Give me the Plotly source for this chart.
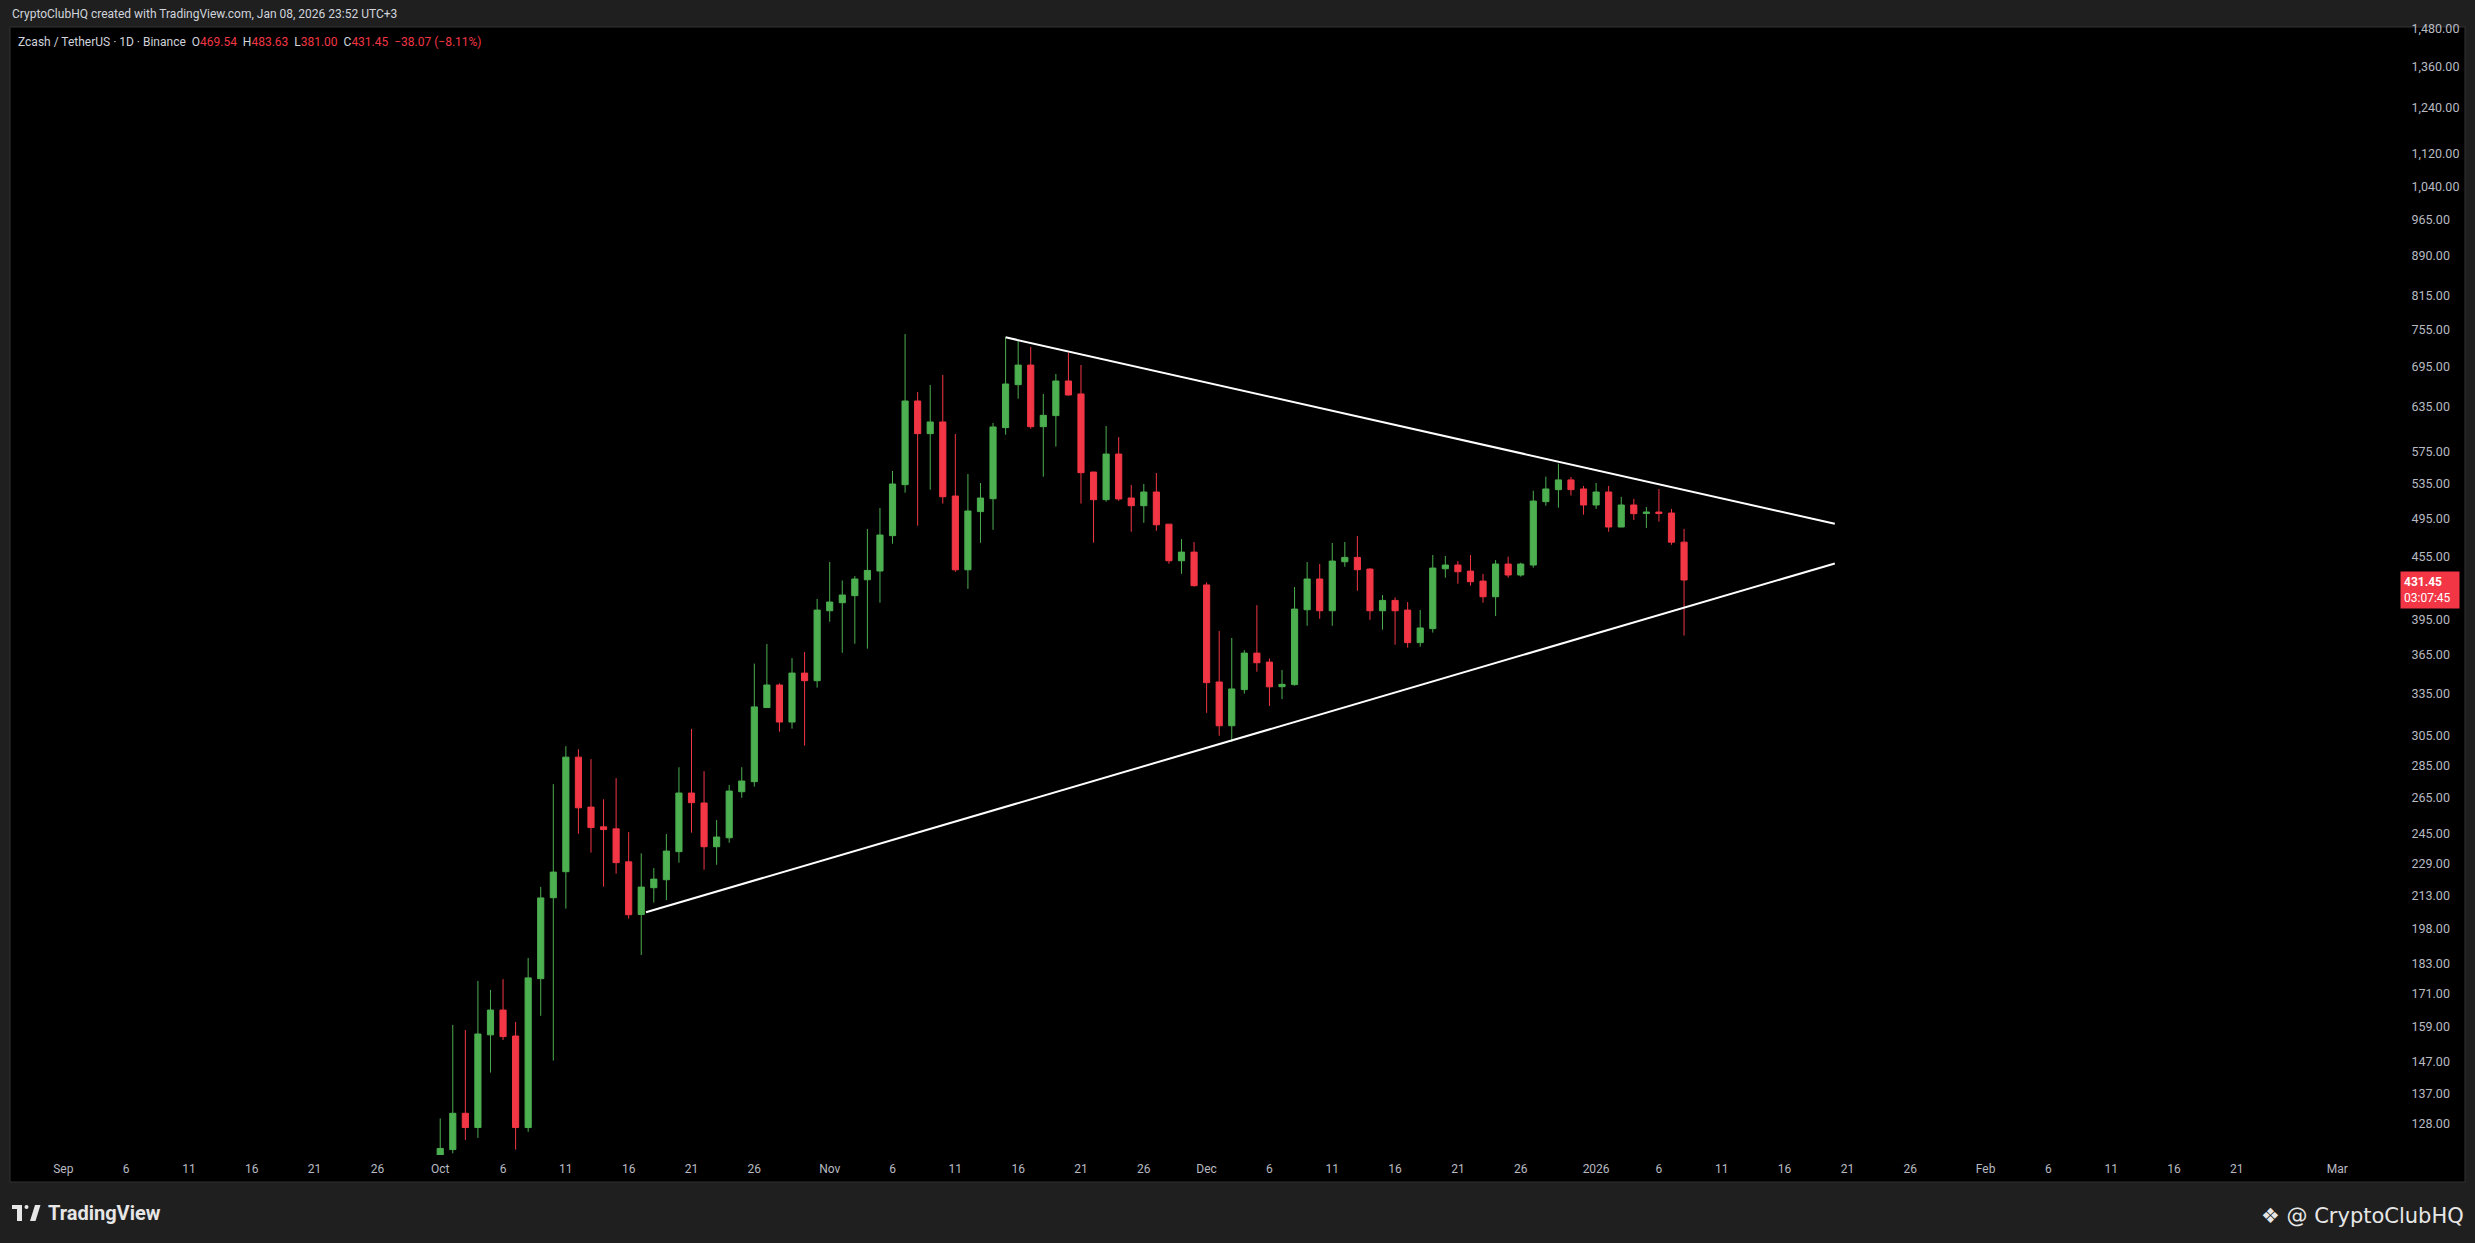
import math
import pandas as pd
import plotly.graph_objects as go

# Zcash / TetherUS daily candles, Oct 1 2025 - Jan 8 2026
dates = pd.date_range("2025-10-01", "2026-01-08", freq="D")

opens = [
    74.0, 120.8, 131.0, 126.9, 156.1, 165.0, 155.7, 126.9, 177.0, 212.1,
    224.8, 290.4, 259.7, 248.5, 247.4, 229.8, 204.3, 216.9, 220.8, 235.1,
    268.0, 262.1, 237.7, 242.5, 268.8, 274.9, 324.4, 341.2, 314.1, 350.4,
    344.5, 402.8, 410.1, 416.6, 431.7, 440.2, 476.4, 533.9, 643.7, 598.4,
    614.2, 520.5, 441.4, 502.7, 517.4, 606.5, 667.6, 697.5, 607.8, 623.0,
    673.1, 653.9, 549.2, 516.3, 571.7, 518.2, 509.4, 525.2, 488.8, 450.4,
    459.2, 426.7, 343.5, 311.5, 337.7, 366.4, 359.1, 339.9, 341.5, 403.7,
    432.4, 402.8, 449.4, 453.8, 442.1, 402.8, 412.2, 403.4, 375.1, 387.0,
    442.4, 446.1, 440.1, 430.4, 415.6, 447.1, 436.3, 446.1, 514.0, 528.0,
    539.6, 528.8, 510.2, 525.2, 485.7, 510.2, 500.7, 502.2, 501.1, 469.54,
]
highs = [
    129.5, 159.6, 157.8, 176.1, 172.6, 176.8, 160.7, 185.4, 217.3, 273.4,
    297.6, 295.6, 289.1, 264.3, 277.1, 245.6, 234.2, 226.6, 244.5, 283.9,
    309.3, 281.4, 252.3, 272.9, 283.9, 357.9, 373.9, 342.5, 362.4, 367.3,
    413.5, 449.1, 431.0, 435.3, 483.5, 506.8, 550.5, 747.6, 656.8, 667.1,
    682.2, 597.9, 546.8, 535.9, 612.9, 742.1, 738.8, 726.3, 653.9, 683.8,
    717.1, 697.6, 549.2, 608.7, 593.8, 533.5, 534.7, 548.0, 488.8, 472.8,
    469.6, 429.2, 384.9, 379.0, 368.8, 407.9, 362.0, 352.8, 424.7, 449.1,
    447.1, 468.6, 469.7, 476.0, 443.1, 417.2, 415.0, 410.7, 403.4, 456.2,
    455.2, 450.1, 456.2, 437.3, 451.1, 454.5, 448.5, 526.7, 543.6, 559.6,
    543.2, 532.4, 535.9, 532.4, 519.5, 517.1, 507.9, 528.8, 505.7, 483.63,
]
lows = [
    73.5, 119.8, 123.4, 124.0, 143.5, 154.3, 120.8, 125.7, 162.9, 147.4,
    207.0, 244.7, 234.6, 217.4, 223.8, 202.4, 186.6, 209.8, 211.0, 229.4,
    245.3, 225.8, 228.3, 239.8, 265.2, 271.9, 324.4, 307.4, 309.5, 298.0,
    339.2, 393.0, 366.7, 374.2, 370.1, 410.1, 467.9, 524.4, 487.1, 527.9,
    511.7, 439.4, 423.0, 468.9, 482.7, 597.0, 647.0, 605.1, 543.5, 581.3,
    651.5, 511.8, 469.0, 514.0, 514.9, 480.6, 490.3, 481.6, 447.4, 437.5,
    425.1, 320.6, 304.6, 300.5, 334.7, 351.5, 325.6, 330.6, 340.7, 389.5,
    395.6, 389.5, 444.4, 421.2, 394.7, 386.1, 373.4, 370.9, 371.7, 383.6,
    433.7, 427.9, 426.0, 410.1, 398.0, 433.7, 434.7, 443.5, 509.4, 507.2,
    521.0, 499.3, 505.7, 480.6, 485.7, 493.4, 484.6, 491.6, 466.8, 381.00,
]
closes = [
    121.1, 131.0, 126.9, 156.4, 165.0, 155.5, 126.9, 177.3, 212.0, 224.6,
    290.4, 259.3, 248.1, 247.0, 229.4, 204.2, 217.2, 221.1, 235.4, 268.0,
    262.3, 237.7, 242.9, 269.2, 275.3, 324.9, 341.2, 314.1, 350.4, 344.5,
    403.4, 410.7, 417.2, 432.4, 440.8, 477.1, 534.7, 643.7, 598.4, 614.2,
    519.7, 441.4, 503.4, 518.2, 607.4, 668.6, 697.5, 607.8, 623.4, 673.1,
    652.4, 548.4, 516.3, 571.7, 517.1, 509.4, 525.2, 488.1, 450.4, 459.2,
    426.0, 343.0, 311.5, 338.2, 366.4, 358.6, 339.8, 341.7, 404.3, 432.4,
    402.8, 450.1, 453.8, 441.5, 402.8, 412.2, 402.8, 375.1, 387.6, 443.1,
    446.1, 439.5, 429.8, 415.6, 447.1, 436.3, 447.1, 514.7, 528.8, 539.6,
    528.0, 510.2, 525.2, 485.7, 510.2, 500.4, 502.2, 500.7, 469.52, 431.45,
]

# symmetrical triangle trend lines
upper_line_dates = ["2025-11-15", "2026-01-20"]
upper_line_prices = [742.1, 489.2]
lower_line_dates = ["2025-10-17 09:00", "2026-01-20"]
lower_line_prices = [205.3, 447.7]

# axis ticks
y_ticks = [128, 137, 147, 159, 171, 183, 198, 213, 229, 245, 265, 285, 305, 335,
           365, 395, 455, 495, 535, 575, 635, 695, 755, 815, 890, 965, 1040,
           1120, 1240, 1360, 1480]
x_tick_dates = [
    "2025-09-01", "2025-09-06", "2025-09-11", "2025-09-16", "2025-09-21", "2025-09-26",
    "2025-10-01", "2025-10-06", "2025-10-11", "2025-10-16", "2025-10-21", "2025-10-26",
    "2025-11-01", "2025-11-06", "2025-11-11", "2025-11-16", "2025-11-21", "2025-11-26",
    "2025-12-01", "2025-12-06", "2025-12-11", "2025-12-16", "2025-12-21", "2025-12-26",
    "2026-01-01", "2026-01-06", "2026-01-11", "2026-01-16", "2026-01-21", "2026-01-26",
    "2026-02-01", "2026-02-06", "2026-02-11", "2026-02-16", "2026-02-21",
    "2026-03-01",
]
x_tick_labels = [
    "Sep", "6", "11", "16", "21", "26",
    "Oct", "6", "11", "16", "21", "26",
    "Nov", "6", "11", "16", "21", "26",
    "Dec", "6", "11", "16", "21", "26",
    "2026", "6", "11", "16", "21", "26",
    "Feb", "6", "11", "16", "21",
    "Mar",
]

GREEN = "#4caf50"
RED = "#f23645"
TXT = "#d1d4dc"
AXIS_TXT = "#b8bac2"
FONT = "Roboto"

# page geometry in pixels
W, H = 2475, 1243
PL, PR, PT, PB = 10, 2398, 27, 1155


def fx(px):
    return (px - PL) / (PR - PL)


def fy(py):
    return (PB - py) / (PB - PT)


fig = go.Figure()

fig.add_trace(go.Candlestick(
    x=dates, open=opens, high=highs, low=lows, close=closes,
    increasing=dict(line=dict(color=GREEN, width=1), fillcolor=GREEN),
    decreasing=dict(line=dict(color=RED, width=1), fillcolor=RED),
    whiskerwidth=0, showlegend=False, hoverinfo="skip",
))

for d, p in [(upper_line_dates, upper_line_prices), (lower_line_dates, lower_line_prices)]:
    fig.add_trace(go.Scatter(x=d, y=p, mode="lines", line=dict(color="#ffffff", width=2),
                             showlegend=False, hoverinfo="skip"))

sep1 = pd.Timestamp("2025-09-01")
day_px = 12.564
x_start = sep1 + pd.Timedelta(days=(PL - 63.3) / day_px)
x_end = sep1 + pd.Timedelta(days=(PR - 63.3) / day_px)

fig.update_xaxes(
    type="date", range=[x_start, x_end], rangeslider_visible=False,
    tickvals=x_tick_dates, ticktext=x_tick_labels,
    showgrid=False, zeroline=False, showline=False,
    ticks="outside", ticklen=3, tickcolor="#000000",
    tickfont=dict(family=FONT, size=12, color=AXIS_TXT),
)
fig.update_yaxes(
    type="log", side="right", range=[2.0768, 3.1717],
    tickvals=y_ticks, ticktext=["{:,.2f}".format(v) for v in y_ticks],
    showgrid=False, zeroline=False, showline=False,
    ticks="outside", ticklen=10, tickcolor="#000000",
    tickfont=dict(family=FONT, size=12.5, color=AXIS_TXT),
)

# black chart frame (pane + price scale + time scale) with thin border
fig.add_shape(type="rect", xref="paper", yref="paper", layer="below",
              x0=fx(10), x1=fx(2465), y0=fy(1182), y1=fy(27),
              fillcolor="#000000", line=dict(color="#333333", width=1))

# TradingView logo (bottom left)
logo = dict(xref="paper", yref="paper", fillcolor="#e6e6e6", line=dict(width=0))
fig.add_shape(type="rect", x0=fx(12), x1=fx(22), y0=fy(1209), y1=fy(1205), **logo)
fig.add_shape(type="rect", x0=fx(17), x1=fx(22), y0=fy(1221), y1=fy(1205), **logo)
fig.add_shape(type="circle", x0=fx(24.5), x1=fx(28.5), y0=fy(1209), y1=fy(1205), **logo)
fig.add_shape(type="path",
              path="M {} {} L {} {} L {} {} L {} {} Z".format(
                  fx(30), fy(1221), fx(35), fy(1205), fx(40.5), fy(1205), fx(35.5), fy(1221)),
              **logo)

chg = closes[-2] - closes[-1]
sp = "&nbsp;&nbsp;"
legend_txt = (
    "<span style='color:{t}'>Zcash / TetherUS · 1D · Binance</span>" + sp +
    "<span style='color:{t}'>O</span><span style='color:{r}'>{o:.2f}</span>" + sp +
    "<span style='color:{t}'>H</span><span style='color:{r}'>{h:.2f}</span>" + sp +
    "<span style='color:{t}'>L</span><span style='color:{r}'>{l:.2f}</span>" + sp +
    "<span style='color:{t}'>C</span><span style='color:{r}'>{c:.2f}</span>" + sp +
    "<span style='color:{r}'>−{d:.2f} (−{pc:.2f}%)</span>"
).format(t=TXT, r=RED, o=opens[-1], h=highs[-1], l=lows[-1], c=closes[-1],
         d=chg, pc=chg / closes[-2] * 100)

annotations = [
    dict(text="CryptoClubHQ created with TradingView.com, Jan 08, 2026 23:52 UTC+3",
         x=fx(10), y=fy(14), xanchor="left", yanchor="middle",
         font=dict(family=FONT, size=12, color=TXT)),
    dict(text=legend_txt, x=fx(16), y=fy(42), xanchor="left", yanchor="middle",
         font=dict(family=FONT, size=12, color=TXT)),
    dict(text="<b>TradingView</b>", x=fx(46), y=fy(1213), xanchor="left", yanchor="middle",
         font=dict(family=FONT, size=20, color="#e6e6e6")),
    dict(text="❖ @ CryptoClubHQ", x=fx(2466), y=fy(1216), xanchor="right", yanchor="middle",
         font=dict(family="DejaVu Sans", size=21, color="#e6e6e6")),
]
for a in annotations:
    a.update(xref="paper", yref="paper", showarrow=False)

# last price label on the price scale
annotations.append(dict(
    text="<b>{:.2f}</b><br>03:07:45".format(closes[-1]),
    xref="paper", yref="y", x=fx(2400), y=math.log10(closes[-1]),
    xanchor="left", yanchor="top", yshift=9, showarrow=False, align="left",
    bgcolor=RED, borderpad=3, width=52,
    font=dict(family=FONT, size=12, color="#ffffff"),
))

fig.update_layout(
    width=W, height=H,
    margin=dict(l=PL, r=W - PR, t=PT, b=H - PB, pad=0),
    paper_bgcolor="#1f1f1f", plot_bgcolor="#000000",
    annotations=annotations, showlegend=False,
)

fig.write_html("out.html", config={"displayModeBar": False},
               post_script="document.body.style.margin='0';document.body.style.overflow='hidden';")
